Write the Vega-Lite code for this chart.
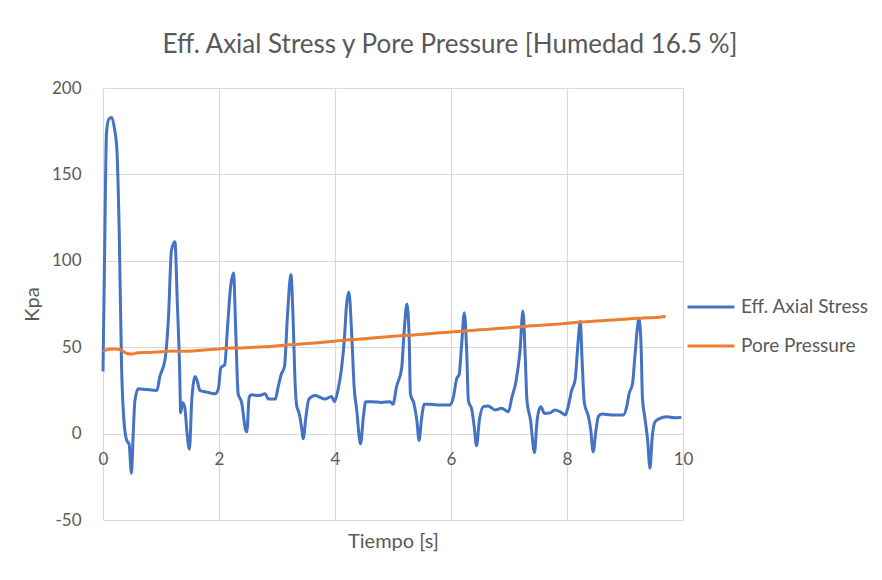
{
  "$schema": "https://vega.github.io/schema/vega-lite/v6.json",
  "autosize": {"type": "none"},
  "padding": {"left": 103, "top": 88, "right": 199, "bottom": 60},
  "width": 580,
  "height": 432,
  "background": "white",
  "title": {
    "text": "Eff. Axial Stress y Pore Pressure [Humedad 16.5 %]",
    "font": "Lato",
    "fontSize": 26,
    "fontWeight": "normal",
    "color": "#595959",
    "anchor": "middle",
    "dx": 57,
    "offset": 21
  },
  "config": {
    "view": {"stroke": null},
    "font": "Lato",
    "axis": {
      "gridColor": "#d9d9d9",
      "gridWidth": 1.2,
      "domain": false,
      "ticks": false,
      "tickSize": 0,
      "labelFont": "Lato",
      "labelFontSize": 17,
      "labelColor": "#595959",
      "labelFlush": false,
      "titleFont": "Lato",
      "titleFontSize": 20,
      "titleFontWeight": "normal",
      "titleColor": "#595959"
    },
    "legend": {
      "labelFont": "Lato",
      "labelFontSize": 19,
      "labelColor": "#595959"
    }
  },
  "datasets": {
    "stress": [
      {"t": 0, "v": 36}, {"t": 0.03, "v": 110}, {"t": 0.06, "v": 174}, {"t": 0.1, "v": 182}, {"t": 0.15, "v": 183},
      {"t": 0.2, "v": 176}, {"t": 0.24, "v": 164}, {"t": 0.28, "v": 116}, {"t": 0.32, "v": 39}, {"t": 0.36, "v": 8},
      {"t": 0.41, "v": -4}, {"t": 0.45, "v": -6}, {"t": 0.49, "v": -23}, {"t": 0.52, "v": -1}, {"t": 0.55, "v": 19},
      {"t": 0.61, "v": 26}, {"t": 0.75, "v": 25.5}, {"t": 0.93, "v": 25}, {"t": 0.98, "v": 33}, {"t": 1.07, "v": 43},
      {"t": 1.13, "v": 68}, {"t": 1.18, "v": 106}, {"t": 1.24, "v": 111}, {"t": 1.28, "v": 77}, {"t": 1.32, "v": 39},
      {"t": 1.34, "v": 12}, {"t": 1.37, "v": 18}, {"t": 1.41, "v": 15}, {"t": 1.45, "v": 0}, {"t": 1.49, "v": -9},
      {"t": 1.53, "v": 19}, {"t": 1.59, "v": 33}, {"t": 1.62, "v": 31}, {"t": 1.67, "v": 25}, {"t": 1.79, "v": 24},
      {"t": 1.93, "v": 23}, {"t": 1.99, "v": 26}, {"t": 2.03, "v": 38}, {"t": 2.1, "v": 40}, {"t": 2.14, "v": 58},
      {"t": 2.2, "v": 85}, {"t": 2.25, "v": 93}, {"t": 2.29, "v": 58}, {"t": 2.33, "v": 23}, {"t": 2.39, "v": 18},
      {"t": 2.46, "v": 2}, {"t": 2.48, "v": 1}, {"t": 2.52, "v": 21}, {"t": 2.56, "v": 22.5}, {"t": 2.68, "v": 22},
      {"t": 2.8, "v": 23}, {"t": 2.85, "v": 20}, {"t": 2.97, "v": 20}, {"t": 3.02, "v": 27}, {"t": 3.07, "v": 34},
      {"t": 3.13, "v": 39}, {"t": 3.18, "v": 68}, {"t": 3.24, "v": 92}, {"t": 3.28, "v": 64}, {"t": 3.31, "v": 31},
      {"t": 3.34, "v": 16}, {"t": 3.38, "v": 12}, {"t": 3.43, "v": 2}, {"t": 3.45, "v": -3}, {"t": 3.5, "v": 10},
      {"t": 3.55, "v": 20}, {"t": 3.66, "v": 22}, {"t": 3.83, "v": 20}, {"t": 3.94, "v": 21.5}, {"t": 3.99, "v": 18.5},
      {"t": 4.05, "v": 25}, {"t": 4.11, "v": 37}, {"t": 4.16, "v": 54}, {"t": 4.2, "v": 75}, {"t": 4.24, "v": 82},
      {"t": 4.29, "v": 56}, {"t": 4.33, "v": 27}, {"t": 4.38, "v": 12}, {"t": 4.4, "v": 4}, {"t": 4.44, "v": -6},
      {"t": 4.49, "v": 10}, {"t": 4.53, "v": 18.5}, {"t": 4.63, "v": 18.5}, {"t": 4.8, "v": 18}, {"t": 4.95, "v": 18.5},
      {"t": 5.0, "v": 17}, {"t": 5.06, "v": 27}, {"t": 5.15, "v": 38}, {"t": 5.19, "v": 58}, {"t": 5.24, "v": 75},
      {"t": 5.28, "v": 54}, {"t": 5.3, "v": 23}, {"t": 5.36, "v": 17.5}, {"t": 5.41, "v": 8}, {"t": 5.45, "v": -4},
      {"t": 5.49, "v": 8}, {"t": 5.54, "v": 17}, {"t": 5.64, "v": 17}, {"t": 5.81, "v": 16.5}, {"t": 5.98, "v": 16.5},
      {"t": 6.04, "v": 21}, {"t": 6.1, "v": 32}, {"t": 6.14, "v": 34}, {"t": 6.18, "v": 50}, {"t": 6.23, "v": 70},
      {"t": 6.27, "v": 48}, {"t": 6.3, "v": 19}, {"t": 6.36, "v": 13.7}, {"t": 6.4, "v": 4}, {"t": 6.44, "v": -7},
      {"t": 6.49, "v": 8}, {"t": 6.56, "v": 15.6}, {"t": 6.64, "v": 16}, {"t": 6.76, "v": 13.7}, {"t": 6.87, "v": 14.6},
      {"t": 6.99, "v": 12.7}, {"t": 7.05, "v": 21}, {"t": 7.12, "v": 30}, {"t": 7.19, "v": 48}, {"t": 7.24, "v": 71},
      {"t": 7.28, "v": 44.5}, {"t": 7.31, "v": 19}, {"t": 7.37, "v": 8}, {"t": 7.44, "v": -11}, {"t": 7.48, "v": 6},
      {"t": 7.52, "v": 14}, {"t": 7.55, "v": 15.6}, {"t": 7.61, "v": 11.7}, {"t": 7.71, "v": 12}, {"t": 7.79, "v": 13.7},
      {"t": 7.88, "v": 12.7}, {"t": 7.97, "v": 10.8}, {"t": 8.02, "v": 15.6}, {"t": 8.08, "v": 25}, {"t": 8.14, "v": 31},
      {"t": 8.18, "v": 48}, {"t": 8.23, "v": 65}, {"t": 8.26, "v": 42.6}, {"t": 8.3, "v": 17.5}, {"t": 8.37, "v": 9.8},
      {"t": 8.41, "v": 2}, {"t": 8.45, "v": -10.5}, {"t": 8.5, "v": 2}, {"t": 8.54, "v": 9.8}, {"t": 8.6, "v": 11.3},
      {"t": 8.77, "v": 10.8}, {"t": 8.97, "v": 10.8}, {"t": 9.03, "v": 15.6}, {"t": 9.07, "v": 23}, {"t": 9.13, "v": 29},
      {"t": 9.17, "v": 44.5}, {"t": 9.21, "v": 60}, {"t": 9.24, "v": 66.7}, {"t": 9.28, "v": 48}, {"t": 9.3, "v": 21},
      {"t": 9.34, "v": 9.8}, {"t": 9.39, "v": -3.7}, {"t": 9.43, "v": -20}, {"t": 9.47, "v": -1.8}, {"t": 9.52, "v": 6.9},
      {"t": 9.6, "v": 8.8}, {"t": 9.72, "v": 9.8}, {"t": 9.86, "v": 9.2}, {"t": 9.97, "v": 9.5}
    ],
    "pore": [
      {"t": 0, "v": 47.5}, {"t": 0.1, "v": 48.8}, {"t": 0.2, "v": 49}, {"t": 0.3, "v": 48.5}, {"t": 0.4, "v": 46.5},
      {"t": 0.5, "v": 46}, {"t": 0.6, "v": 46.8}, {"t": 0.8, "v": 47}, {"t": 1.0, "v": 47.4}, {"t": 1.2, "v": 47.8},
      {"t": 1.4, "v": 47.6}, {"t": 1.6, "v": 48}, {"t": 1.8, "v": 48.5}, {"t": 2.0, "v": 49}, {"t": 2.2, "v": 49.6},
      {"t": 2.4, "v": 49.5}, {"t": 2.6, "v": 50}, {"t": 2.8, "v": 50.2}, {"t": 3.0, "v": 50.8}, {"t": 3.2, "v": 51.4},
      {"t": 3.4, "v": 51.8}, {"t": 3.6, "v": 52.3}, {"t": 3.8, "v": 52.9}, {"t": 4.0, "v": 53.5}, {"t": 4.2, "v": 54.2},
      {"t": 4.4, "v": 54.6}, {"t": 4.6, "v": 55.2}, {"t": 4.8, "v": 55.7}, {"t": 5.0, "v": 56.3}, {"t": 5.2, "v": 56.8},
      {"t": 5.4, "v": 57.2}, {"t": 5.6, "v": 57.8}, {"t": 5.8, "v": 58.3}, {"t": 6.0, "v": 58.8}, {"t": 6.2, "v": 59.3},
      {"t": 6.4, "v": 59.8}, {"t": 6.6, "v": 60.3}, {"t": 6.8, "v": 60.8}, {"t": 7.0, "v": 61.3}, {"t": 7.2, "v": 61.9},
      {"t": 7.4, "v": 62.4}, {"t": 7.6, "v": 62.8}, {"t": 7.8, "v": 63.3}, {"t": 8.0, "v": 63.8}, {"t": 8.2, "v": 64.4},
      {"t": 8.4, "v": 64.9}, {"t": 8.6, "v": 65.3}, {"t": 8.8, "v": 65.8}, {"t": 9.0, "v": 66.2}, {"t": 9.2, "v": 66.7},
      {"t": 9.4, "v": 67}, {"t": 9.6, "v": 67.4}, {"t": 9.7, "v": 67.7}
    ]
  },
  "encoding": {
    "x": {
      "field": "t",
      "type": "quantitative",
      "scale": {"domain": [0, 10], "nice": false},
      "axis": {
        "title": "Tiempo [s]",
        "values": [0, 2, 4, 6, 8, 10],
        "offset": -86.4,
        "labelPadding": 18,
        "titleY": 108,
        "titleBaseline": "middle"
      }
    },
    "y": {
      "field": "v",
      "type": "quantitative",
      "scale": {"domain": [-50, 200], "nice": false},
      "axis": {
        "title": "Kpa",
        "values": [-50, 0, 50, 100, 150, 200],
        "labelExpr": "'' + datum.value",
        "labelPadding": 22,
        "titleAngle": -90,
        "titleX": -71,
        "titleY": 216,
        "titleAlign": "center",
        "titleBaseline": "middle"
      }
    },
    "color": {
      "type": "nominal",
      "scale": {"domain": ["Eff. Axial Stress", "Pore Pressure"], "range": ["#4472C4", "#ED7D31"]},
      "legend": {
        "title": null,
        "orient": "none",
        "legendX": 583,
        "legendY": 194,
        "symbolType": "stroke",
        "symbolStrokeWidth": 3,
        "symbolSize": 2200,
        "labelOffset": 5,
        "rowPadding": 4
      }
    }
  },
  "layer": [
    {
      "data": {"name": "stress"},
      "mark": {"type": "line", "interpolate": "monotone", "strokeWidth": 3},
      "encoding": {"color": {"datum": "Eff. Axial Stress"}}
    },
    {
      "data": {"name": "pore"},
      "mark": {"type": "line", "interpolate": "monotone", "strokeWidth": 3},
      "encoding": {"color": {"datum": "Pore Pressure"}}
    }
  ]
}
